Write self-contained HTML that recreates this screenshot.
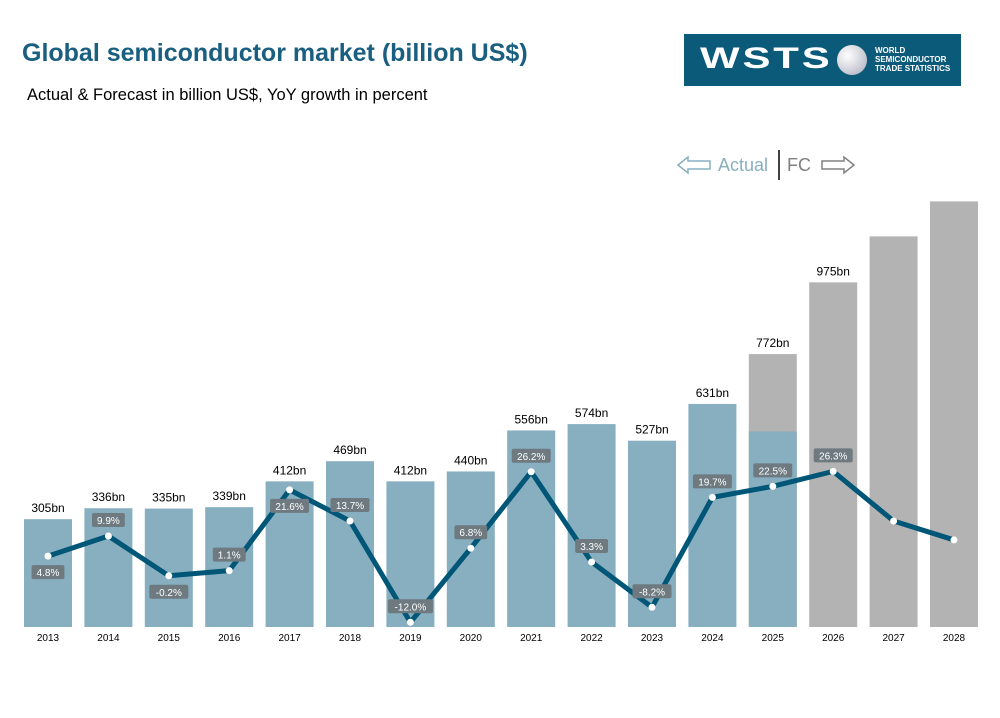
<!DOCTYPE html>
<html><head><meta charset="utf-8"><style>
body{margin:0;background:#fff;font-family:"Liberation Sans",Arial,sans-serif;}
#wrap{position:relative;width:1000px;height:718px;overflow:hidden;}
</style></head><body>
<div id="wrap">
<div style="position:absolute;left:22px;top:39px;font-size:25px;font-weight:bold;color:#1a5f80;">Global semiconductor market (billion US$)</div>
<div style="position:absolute;left:27px;top:86px;font-size:16.5px;color:#000;">Actual &amp; Forecast in billion US$, YoY growth in percent</div>
<div style="position:absolute;left:684px;top:34px;width:277px;height:52px;background:#0b5a7a;">
 <div style="position:absolute;left:16px;top:9px;color:#fff;font-size:30px;font-weight:bold;letter-spacing:2px;line-height:32px;transform:scaleX(1.4);transform-origin:left;">WSTS</div>
 <div style="position:absolute;left:153px;top:11px;width:30px;height:30px;border-radius:50%;background:radial-gradient(circle at 35% 35%,#fff,#aab);"></div>
 <div style="position:absolute;left:191px;top:12px;color:#fff;font-size:8px;font-weight:bold;line-height:9px;">WORLD<br>SEMICONDUCTOR<br>TRADE STATISTICS</div>
</div>
<svg id="chart" width="1000" height="718" style="position:absolute;left:0;top:0">
 <g>
  <path d="M678 165 L688 157 L688 161 L710 161 L710 169 L688 169 L688 173 Z" fill="none" stroke="#87afc0" stroke-width="1.5"/>
  <text x="718" y="171" font-size="18" fill="#87afc0">Actual</text>
  <line x1="779" y1="150" x2="779" y2="180" stroke="#000" stroke-width="1.5"/>
  <text x="787" y="171" font-size="18" fill="#808080">FC</text>
  <path d="M822 161 L844 161 L844 157 L854 165 L844 173 L844 169 L822 169 Z" fill="none" stroke="#808080" stroke-width="1.5"/>
 </g>
 <g id="bars"></g><g id="line"></g><g id="labels"></g>
</svg>
</div>
<script>
const years=["2013","2014","2015","2016","2017","2018","2019","2020","2021","2022","2023","2024","2025","2026","2027","2028"];
const actualValues=[305,336,335,339,412,469,412,440,556,574,527,631,553,0,0,0];
const forecastValues=[0,0,0,0,0,0,0,0,0,0,0,0,772,975,1105,1204];
const valueLabels=["305bn","336bn","335bn","339bn","412bn","469bn","412bn","440bn","556bn","574bn","527bn","631bn","772bn","975bn","",""];
const growth=[4.8,9.9,-0.2,1.1,21.6,13.7,-12.0,6.8,26.2,3.3,-8.2,19.7,22.5,26.3,13.7,8.9];
const growthLabels=["4.8%","9.9%","-0.2%","1.1%","21.6%","13.7%","-12.0%","6.8%","26.2%","3.3%","-8.2%","19.7%","22.5%","26.3%","",""];
const labelSide=["below","above","below","above","below","above","above","above","above","above","above","above","above","above","",""];
const NS="http://www.w3.org/2000/svg";
const x=i=>48+i*60.4, base=627, yv=v=>base-v*0.3535, yg=g=>575-g*3.94;
function mk(t,a,p){const e=document.createElementNS(NS,t);for(const k in a)e.setAttribute(k,a[k]);p.appendChild(e);return e;}
const B=document.getElementById('bars'),L=document.getElementById('line'),T=document.getElementById('labels');
years.forEach((yr,i)=>{
 if(forecastValues[i]>0){const r=mk('rect',{x:x(i)-24,y:yv(forecastValues[i]),width:48,height:base-yv(forecastValues[i]),fill:'#b3b3b3'},B);
 
 }
 if(actualValues[i]>0){const r=mk('rect',{x:x(i)-24,y:yv(actualValues[i]),width:48,height:base-yv(actualValues[i]),fill:'#87afc0'},B);
 
 }
 const top=Math.min(actualValues[i]>0?yv(actualValues[i]):999,forecastValues[i]>0?yv(forecastValues[i]):999);
 if(valueLabels[i]){const t=mk('text',{x:x(i),y:top-7,'font-size':12,'text-anchor':'middle',fill:'#000'},T);t.textContent=valueLabels[i];
 
 }
 const xt=mk('text',{x:x(i),y:641,'font-size':10,'text-anchor':'middle',fill:'#000'},T);xt.textContent=yr;
 
 
});
const pl=mk('polyline',{points:growth.map((g,i)=>x(i)+','+yg(g)).join(' '),fill:'none',stroke:'#005677','stroke-width':5,'stroke-linejoin':'round'},L);


growth.forEach((g,i)=>{
 const c=mk('circle',{cx:x(i),cy:yg(g),r:3.5,fill:'#fff'},L);
 
 
 if(!growthLabels[i])return;
 const cy=yg(g)+(labelSide[i]==='below'?16:-16);
 const w=growthLabels[i].length*6.2+8;
 const r=mk('rect',{x:x(i)-w/2,y:cy-7,width:w,height:14,rx:2,fill:'#6e7a80'},L);
 
 
 const t=mk('text',{x:x(i),y:cy+4,'font-size':10,'text-anchor':'middle',fill:'#fff'},L);t.textContent=growthLabels[i];
 
 
});
</script>
</body></html>
